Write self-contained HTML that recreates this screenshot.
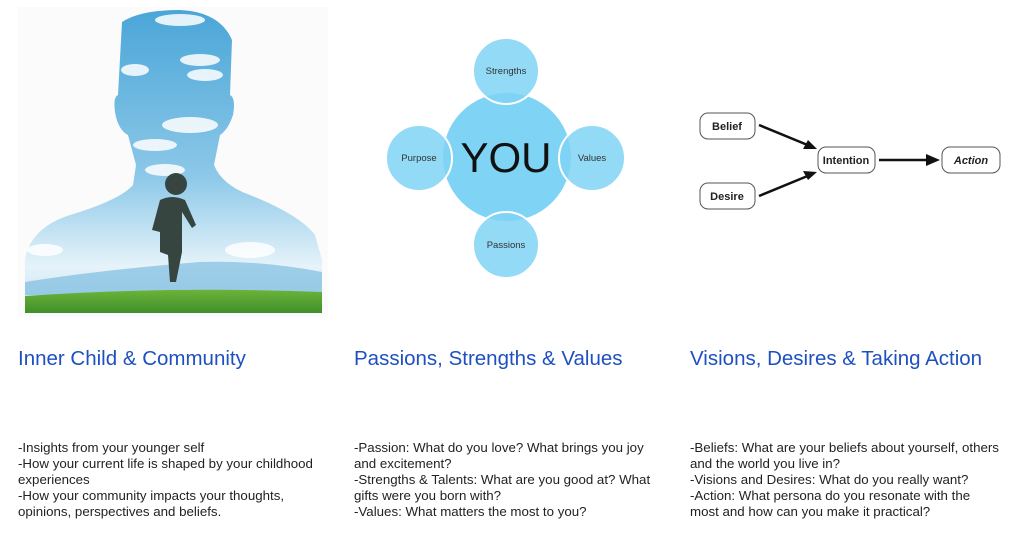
<!DOCTYPE html>
<html><head><meta charset="utf-8"><style>
body{margin:0;width:1023px;height:534px;background:#fff;position:relative;overflow:hidden;font-family:"Liberation Sans",Arial,sans-serif}
.h{position:absolute;top:347px;font-size:20.5px;color:#1e50c0;white-space:nowrap}
.t{position:absolute;top:440px;font-size:13.3px;line-height:16px;color:#222;width:316px}
</style></head><body>
<svg width="1023" height="534" style="position:absolute;left:0;top:0">
<defs>
<linearGradient id="sky" x1="0" y1="0" x2="0" y2="1">
<stop offset="0" stop-color="#4aa6d8"/><stop offset="0.55" stop-color="#8cc8e8"/><stop offset="0.85" stop-color="#e6f3fa"/><stop offset="1" stop-color="#bfe0f0"/></linearGradient>
<linearGradient id="grass" x1="0" y1="0" x2="0" y2="1"><stop offset="0" stop-color="#6cb33a"/><stop offset="1" stop-color="#3f8f2a"/></linearGradient>
</defs>
<rect x="18" y="7" width="310" height="310" fill="#fbfbfb"/>
<path d="M122,22 Q140,10 180,10 Q220,12 232,40 L230,95 Q236,98 233,115 Q228,130 220,135 L214,165 Q222,185 250,195 Q300,215 315,235 L322,260 L322,312 L25,312 L25,260 Q30,228 70,215 Q120,200 133,185 L136,165 L128,135 Q118,130 115,112 Q113,97 118,95 Z" fill="url(#sky)"/>
<g fill="#fff" opacity="0.85">
<ellipse cx="180" cy="20" rx="25" ry="6"/><ellipse cx="200" cy="60" rx="20" ry="6"/><ellipse cx="135" cy="70" rx="14" ry="6"/><ellipse cx="205" cy="75" rx="18" ry="6"/><ellipse cx="190" cy="125" rx="28" ry="8"/><ellipse cx="155" cy="145" rx="22" ry="6"/><ellipse cx="165" cy="170" rx="20" ry="6"/><ellipse cx="250" cy="250" rx="25" ry="8"/><ellipse cx="45" cy="250" rx="18" ry="6"/>
</g>
<path d="M25,282 Q100,270 200,262 Q260,260 322,272 L322,295 L25,295 Z" fill="#7fbde0" opacity="0.7"/>
<path d="M25,296 Q170,286 322,292 L322,313 L25,313 Z" fill="url(#grass)"/>
<g fill="#364540">
<circle cx="176" cy="184" r="11"/>
<path d="M160,200 Q172,194 185,200 L196,225 L192,228 L182,212 L182,252 L176,282 L170,282 L168,255 L160,252 L160,232 L152,230 Z"/>
</g>
<circle cx="507" cy="157" r="65" fill="#7fd3f5" stroke="#fff" stroke-width="2"/>
<g fill="#7fd3f5" fill-opacity="0.85" stroke="#fff" stroke-width="2">
<circle cx="506" cy="71" r="33"/><circle cx="419" cy="158" r="33"/><circle cx="592" cy="158" r="33"/><circle cx="506" cy="245" r="33"/>
</g>
<g font-family="Liberation Sans,sans-serif" fill="#333" font-size="9.5" text-anchor="middle">
<text x="506" y="74">Strengths</text><text x="419" y="161">Purpose</text><text x="592" y="161">Values</text><text x="506" y="248">Passions</text>
</g>
<text x="506" y="172" font-size="42" text-anchor="middle" font-family="Liberation Sans,sans-serif" fill="#111">YOU</text>
<g fill="#fff" stroke="#555" stroke-width="1">
<rect x="700" y="113" width="55" height="26" rx="8"/><rect x="700" y="183" width="55" height="26" rx="8"/>
<rect x="818" y="147" width="57" height="26" rx="8"/><rect x="942" y="147" width="58" height="26" rx="8"/>
</g>
<g font-family="Liberation Sans,sans-serif" font-size="11" font-weight="bold" fill="#222" text-anchor="middle">
<text x="727" y="130">Belief</text><text x="727" y="200">Desire</text><text x="846" y="164">Intention</text><text x="971" y="164" font-style="italic">Action</text>
</g>
<g stroke="#111" stroke-width="2.5" fill="none">
<line x1="759" y1="125" x2="810" y2="146"/><line x1="759" y1="196" x2="810" y2="175"/><line x1="879" y1="160" x2="928" y2="160"/>
</g>
<g fill="#111">
<polygon points="817,149 803,149 808,140"/><polygon points="817,172 808,180 803,171"/><polygon points="940,160 926,154 926,166"/>
</g>
</svg>
<div class="h" style="left:18px">Inner Child &amp; Community</div>
<div class="h" style="left:354px">Passions, Strengths &amp; Values</div>
<div class="h" style="left:690px">Visions, Desires &amp; Taking Action</div>
<div class="t" style="left:18px">-Insights from your younger self<br>-How your current life is shaped by your childhood<br>experiences<br>-How your community impacts your thoughts,<br>opinions, perspectives and beliefs.</div>
<div class="t" style="left:354px">-Passion: What do you love? What brings you joy<br>and excitement?<br>-Strengths &amp; Talents: What are you good at? What<br>gifts were you born with?<br>-Values: What matters the most to you?</div>
<div class="t" style="left:690px">-Beliefs: What are your beliefs about yourself, others<br>and the world you live in?<br>-Visions and Desires: What do you really want?<br>-Action: What persona do you resonate with the<br>most and how can you make it practical?</div>
</body></html>
